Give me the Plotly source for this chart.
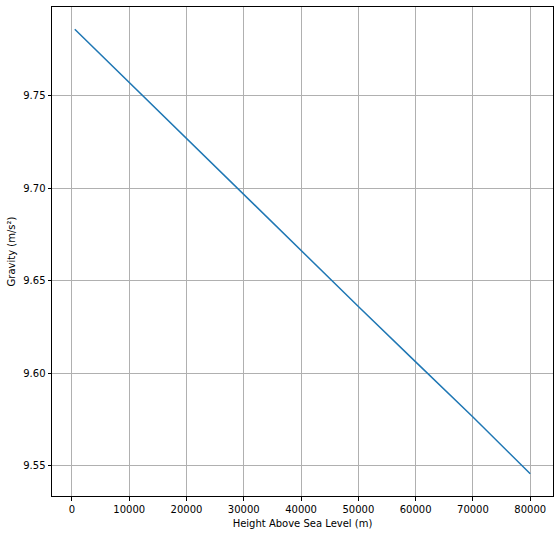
import plotly.graph_objects as go

heights = [500, 10000, 20000, 30000, 40000, 50000, 60000, 70000, 80000]
gravity = [9.7861, 9.7573, 9.7268, 9.6964, 9.6663, 9.6362, 9.6062, 9.5764, 9.5457]

x_ticks = [0, 10000, 20000, 30000, 40000, 50000, 60000, 70000, 80000]
y_ticks = [9.55, 9.60, 9.65, 9.70, 9.75]

fig = go.Figure()
fig.add_trace(go.Scatter(x=heights, y=gravity, mode="lines",
                         line=dict(color="#1f77b4", width=1.5), showlegend=False))

span_x = max(heights) - min(heights)
span_y = max(gravity) - min(gravity)

axis_common = dict(
    showline=True, linecolor="black", linewidth=1, mirror=True,
    ticks="outside", ticklen=3.5, tickwidth=0.8, tickcolor="black",
    showgrid=True, gridcolor="#b0b0b0", gridwidth=0.8, zeroline=False,
    tickfont=dict(family="DejaVu Sans", size=10, color="black"),
)

fig.update_layout(
    width=559, height=534,
    margin=dict(l=51.5, r=6, t=7, b=38),
    paper_bgcolor="white", plot_bgcolor="white",
    font=dict(family="DejaVu Sans", size=10, color="black"),
    xaxis=dict(range=[min(heights) - 0.05 * span_x, max(heights) + 0.05 * span_x],
               tickvals=x_ticks, ticktext=[str(v) for v in x_ticks],
               title=dict(text="Height Above Sea Level (m)", standoff=6,
                          font=dict(family="DejaVu Sans", size=10)),
               automargin=False, **axis_common),
    yaxis=dict(range=[min(gravity) - 0.05 * span_y, max(gravity) + 0.05 * span_y],
               tickvals=y_ticks, ticktext=[f"{v:.2f}" for v in y_ticks],
               title=dict(text="Gravity (m/s²)", standoff=5,
                          font=dict(family="DejaVu Sans", size=10)),
               automargin=False, **axis_common),
)

fig.write_html("out.html", config={"displayModeBar": False},
               post_script="document.body.style.margin='0';document.body.style.padding='0';")
